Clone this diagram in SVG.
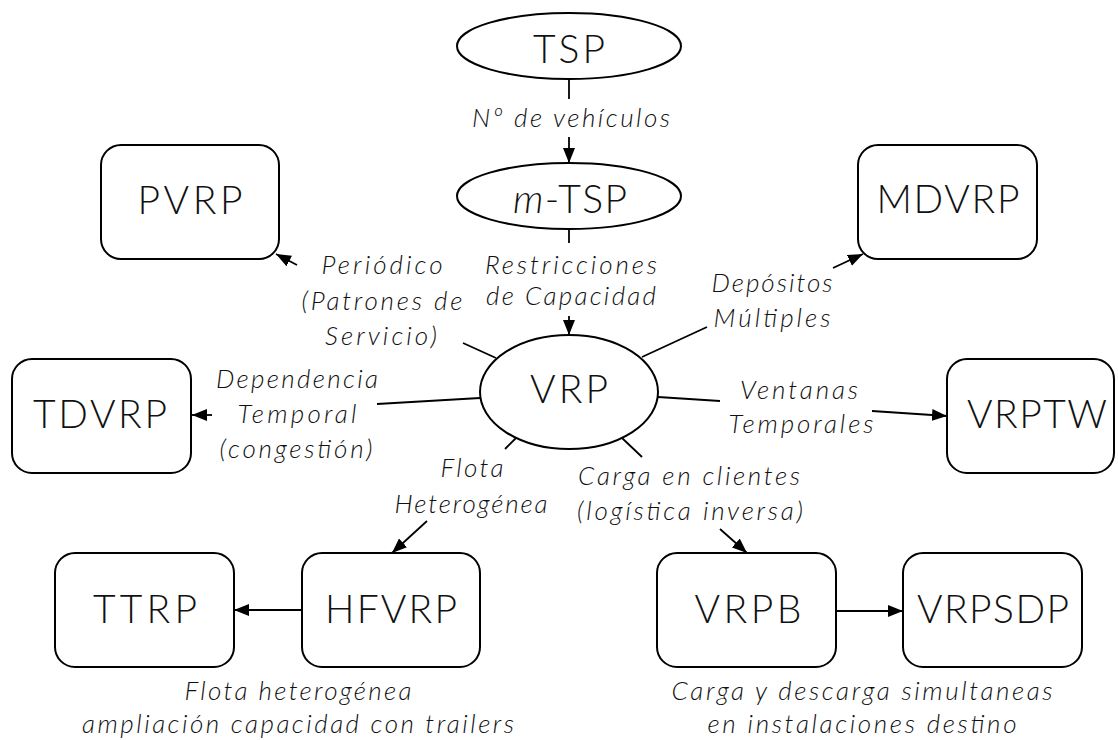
<svg xmlns="http://www.w3.org/2000/svg" width="1118" height="740" viewBox="0 0 1118 740">
<style>
.node{fill:#fff;stroke:#000;stroke-width:2}
.nt{font-family:Lato,"Liberation Sans",sans-serif;font-weight:300;font-size:39px;fill:#111;text-anchor:middle}
.lb{font-family:Lato,"Liberation Sans",sans-serif;font-weight:300;font-style:italic;font-size:26px;fill:#111;text-anchor:middle}
.c{stroke:#000;stroke-width:1.8;fill:none}
.a{marker-end:url(#ah)}
</style>
<defs>
<marker id="ah" markerUnits="userSpaceOnUse" markerWidth="16" markerHeight="12" refX="15" refY="6" orient="auto">
<path d="M0,0 L15,6 L0,12 z" fill="#000"/>
</marker>
</defs>
<rect width="1118" height="740" fill="#fff"/>
<g id="connectors">
<line class="c" x1="569" y1="79" x2="569" y2="99"/>
<line class="c a" x1="569" y1="137" x2="569" y2="163"/>
<line class="c" x1="569" y1="230" x2="569" y2="243"/>
<line class="c a" x1="569" y1="316" x2="569" y2="335"/>
<line class="c" x1="496" y1="358" x2="463" y2="343"/>
<line class="c a" x1="297" y1="265" x2="276" y2="254"/>
<line class="c" x1="480" y1="398" x2="377" y2="404"/>
<line class="c a" x1="212" y1="415" x2="192" y2="415"/>
<line class="c" x1="642" y1="357" x2="707" y2="327"/>
<line class="c a" x1="833" y1="268" x2="863" y2="254"/>
<line class="c" x1="658" y1="397" x2="720" y2="401"/>
<line class="c a" x1="872" y1="411" x2="947" y2="416"/>
<line class="c" x1="516" y1="438" x2="505" y2="449"/>
<line class="c a" x1="427" y1="521" x2="392" y2="553"/>
<line class="c" x1="622" y1="438" x2="642" y2="457"/>
<line class="c a" x1="720" y1="529" x2="747" y2="553"/>
<line class="c a" x1="302" y1="610" x2="234" y2="610"/>
<line class="c a" x1="836" y1="611" x2="903" y2="611"/>
</g>
<g id="labels">
<text class="lb" x="571" y="127" textLength="198" lengthAdjust="spacing">Nº de vehículos</text>
<text class="lb" x="571" y="274" textLength="172" lengthAdjust="spacing">Restricciones</text>
<text class="lb" x="571" y="305" textLength="170" lengthAdjust="spacing">de Capacidad</text>
<text class="lb" x="382" y="274" textLength="121" lengthAdjust="spacing">Periódico</text>
<text class="lb" x="382" y="310" textLength="161" lengthAdjust="spacing">(Patrones de</text>
<text class="lb" x="381" y="345" textLength="112" lengthAdjust="spacing">Servicio)</text>
<text class="lb" x="297" y="388" textLength="162" lengthAdjust="spacing">Dependencia</text>
<text class="lb" x="297" y="423" textLength="119" lengthAdjust="spacing">Temporal</text>
<text class="lb" x="296" y="458" textLength="153" lengthAdjust="spacing">(congestión)</text>
<text class="lb" x="772" y="292" textLength="121" lengthAdjust="spacing">Depósitos</text>
<text class="lb" x="772" y="327" textLength="117" lengthAdjust="spacing">Múltiples</text>
<text class="lb" x="799" y="399" textLength="118" lengthAdjust="spacing">Ventanas</text>
<text class="lb" x="801" y="433" textLength="145" lengthAdjust="spacing">Temporales</text>
<text class="lb" x="472" y="477" textLength="63" lengthAdjust="spacing">Flota</text>
<text class="lb" x="471" y="513" textLength="153" lengthAdjust="spacing">Heterogénea</text>
<text class="lb" x="689" y="485" textLength="222" lengthAdjust="spacing">Carga en clientes</text>
<text class="lb" x="690" y="520" textLength="226" lengthAdjust="spacing">(logística inversa)</text>
<text class="lb" x="298" y="700" textLength="227" lengthAdjust="spacing">Flota heterogénea</text>
<text class="lb" x="298" y="733" textLength="432" lengthAdjust="spacing">ampliación capacidad con trailers</text>
<text class="lb" x="862" y="700" textLength="381" lengthAdjust="spacing">Carga y descarga simultaneas</text>
<text class="lb" x="862" y="733" textLength="309" lengthAdjust="spacing">en instalaciones destino</text>
</g>
<g id="TSP"><ellipse class="node" cx="569" cy="46" rx="112" ry="33"/><text class="nt" x="569" y="63" textLength="72" lengthAdjust="spacing">TSP</text></g>
<g id="mTSP"><ellipse class="node" cx="569" cy="196" rx="112" ry="33"/><text class="nt" x="570" y="213" textLength="114" lengthAdjust="spacing"><tspan font-style="italic">m</tspan>-TSP</text></g>
<g id="VRP"><ellipse class="node" cx="569" cy="392" rx="89" ry="57"/><text class="nt" x="569" y="403" textLength="78" lengthAdjust="spacing">VRP</text></g>
<g id="PVRP"><rect class="node" x="101" y="145" width="178" height="114" rx="20"/><text class="nt" x="190" y="214" textLength="105" lengthAdjust="spacing">PVRP</text></g>
<g id="TDVRP"><rect class="node" x="12" y="359" width="179" height="114" rx="20"/><text class="nt" x="100" y="428" textLength="134" lengthAdjust="spacing">TDVRP</text></g>
<g id="MDVRP"><rect class="node" x="858" y="145" width="179" height="114" rx="20"/><text class="nt" x="948" y="213" textLength="143" lengthAdjust="spacing">MDVRP</text></g>
<g id="VRPTW"><rect class="node" x="947" y="359" width="167" height="114" rx="20"/><text class="nt" x="1037" y="428" textLength="140" lengthAdjust="spacing">VRPTW</text></g>
<g id="TTRP"><rect class="node" x="55" y="553" width="179" height="114" rx="20"/><text class="nt" x="145" y="623" textLength="104" lengthAdjust="spacing">TTRP</text></g>
<g id="HFVRP"><rect class="node" x="302" y="553" width="178" height="114" rx="20"/><text class="nt" x="391" y="623" textLength="132" lengthAdjust="spacing">HFVRP</text></g>
<g id="VRPB"><rect class="node" x="657" y="553" width="179" height="114" rx="20"/><text class="nt" x="748" y="623" textLength="107" lengthAdjust="spacing">VRPB</text></g>
<g id="VRPSDP"><rect class="node" x="903" y="553" width="179" height="114" rx="20"/><text class="nt" x="993" y="623" textLength="152" lengthAdjust="spacing">VRPSDP</text></g>
</svg>
